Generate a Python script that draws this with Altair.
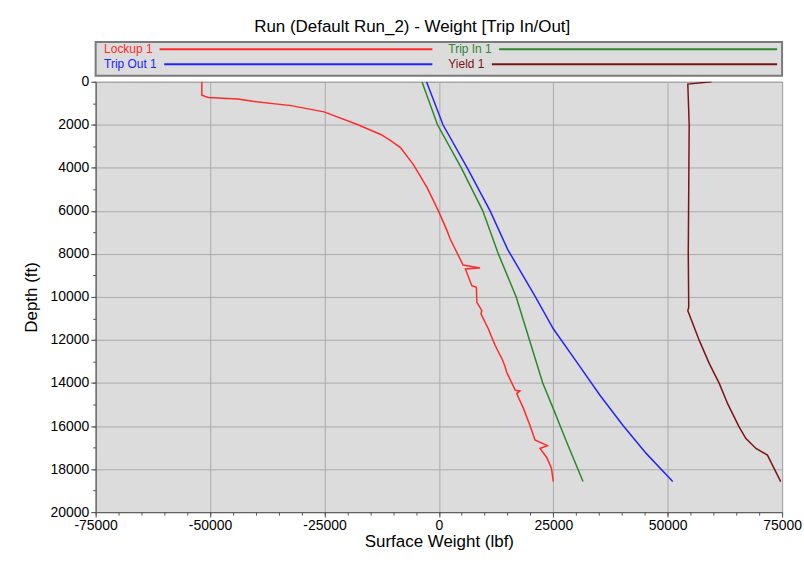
import altair as alt
import pandas as pd

# ---------------- data ----------------
series_names = ["Lockup 1", "Trip In 1", "Trip Out 1", "Yield 1"]
series_colors = ["#ff2b2b", "#2e862e", "#2323ff", "#7a1414"]

lockup_weight = [-51800, -51800, -50400, -43900, -40700, -32300, -25100, -17800, -12700,
                 -10600, -8400, -5600, -2600, -100, 1800, 2500, 5300, 9000, 5800, 7200,
                 8200, 8300, 9400, 9200, 10800, 11400, 12300, 13400, 13800, 14500, 14800,
                 16700, 17700, 17000, 18500, 19900, 21000, 23700, 22100, 23600, 24600, 25000]
lockup_depth = [0, 630, 730, 800, 910, 1110, 1400, 1990, 2450,
                2720, 3060, 3840, 4910, 6000, 6930, 7320, 8520, 8660, 8700, 9480,
                9550, 10250, 10640, 10790, 11480, 11790, 12250, 12720, 12870, 13260, 13490,
                14340, 14370, 14490, 15190, 15960, 16650, 16910, 17040, 17470, 17960, 18580]

tripin_weight = [-3700, -300, 4900, 9600, 13000, 16900, 19800, 22700, 25000, 27900, 31500]
tripin_depth = [0, 2000, 4000, 6000, 8000, 10000, 12000, 14000, 15190, 16730, 18580]

tripout_weight = [-2700, 900, 6200, 11200, 15000, 21100, 25000, 30100, 35200, 40200,
                  45300, 51100]
tripout_depth = [0, 2000, 4000, 6000, 7780, 10000, 11480, 13020, 14570, 15960,
                 17270, 18580]

yield_weight = [59600, 54400, 54700, 54600, 54500, 54600, 54400, 55500, 56900, 59100,
                61300, 63100, 65600, 67100, 69300, 71800, 74700]
yield_depth = [0, 110, 2000, 5000, 8000, 10480, 10640, 11250, 12020, 13100,
               14030, 14960, 16040, 16580, 17040, 17350, 18580]

x_major = [-75000, -50000, -25000, 0, 25000, 50000, 75000]
x_minor = list(range(-75000, 75001, 5000))
y_major = list(range(0, 20001, 2000))
y_minor = list(range(0, 20001, 1000))

title_text = "Run (Default Run_2) - Weight [Trip In/Out]"
x_title = "Surface Weight (lbf)"
y_title = "Depth (ft)"

# ---------------- tables ----------------
rows = []
for name, ws, ds in zip(series_names,
                        [lockup_weight, tripin_weight, tripout_weight, yield_weight],
                        [lockup_depth, tripin_depth, tripout_depth, yield_depth]):
    for i, (w, d) in enumerate(zip(ws, ds)):
        rows.append({"series": name, "weight": w, "depth": d, "idx": i})
df = pd.DataFrame(rows)

PLOT_W, PLOT_H = 689, 432
LEG_H = 34
FONT = "Liberation Sans"
LEG_FS = 12

# approximate Arial advance widths (per 1000 em) to place legend lines after labels
_aw = {"L": 556, "o": 556, "c": 500, "k": 500, "u": 556, "p": 556, " ": 278, "1": 556,
       "T": 611, "r": 333, "i": 222, "n": 556, "O": 778, "t": 278, "Y": 667, "e": 556,
       "l": 222, "d": 556, "I": 278}


def text_w(s):
    return sum(_aw.get(ch, 556) for ch in s) * LEG_FS / 1000.0


col_start = [8.5, 354.0]
col_end = [338.0, 684.0]
row_y = [7.5, 22.5]
leg_rows = []
for i, (name, color) in enumerate(zip(series_names, series_colors)):
    r, c = i // 2, i % 2
    leg_rows.append({"series": name, "tx": col_start[c],
                     "lx": col_start[c] + text_w(name) + 7, "lx2": col_end[c],
                     "ly": row_y[r]})
leg_df = pd.DataFrame(leg_rows)

color_scale = alt.Scale(domain=series_names, range=series_colors)

# ---------------- legend panel ----------------
lx_scale = alt.Scale(domain=[0, PLOT_W], nice=False, zero=False)
ly_scale = alt.Scale(domain=[0, LEG_H], nice=False, zero=False, reverse=True)
leg_base = alt.Chart(leg_df)
leg_text = leg_base.mark_text(align="left", baseline="middle", fontSize=LEG_FS, font=FONT).encode(
    x=alt.X("tx:Q", scale=lx_scale, axis=None),
    y=alt.Y("ly:Q", scale=ly_scale, axis=None),
    text="series:N",
    color=alt.Color("series:N", scale=color_scale, legend=None),
)
leg_line = leg_base.mark_rule(strokeWidth=2).encode(
    x=alt.X("lx:Q", scale=lx_scale, axis=None),
    x2="lx2:Q",
    y=alt.Y("ly:Q", scale=ly_scale, axis=None),
    color=alt.Color("series:N", scale=color_scale, legend=None),
)
legend_panel = alt.layer(leg_line, leg_text).properties(
    width=PLOT_W, height=LEG_H,
    view=alt.ViewBackground(fill="#dcdcdc", stroke="#7a7a7a", strokeWidth=2),
)

# ---------------- main plot ----------------
x_scale = alt.Scale(domain=[-75000, 75000], nice=False, zero=False)
y_scale = alt.Scale(domain=[0, 20000], nice=False, zero=False, reverse=True)

base = alt.Chart(df)
lines = base.mark_line(strokeWidth=1.5, clip=True).encode(
    x=alt.X("weight:Q", scale=x_scale,
            axis=alt.Axis(title=x_title, values=x_major, orient="bottom", grid=True,
                          labelExpr="'' + datum.value", tickSize=5, labelPadding=1,
                          titlePadding=1, labelFontSize=14, titleFontSize=17,
                          titleFontWeight="normal", labelColor="#000000", titleColor="#000000",
                          domainColor="#555555", tickColor="#555555",
                          gridColor="#ababab", gridWidth=1, labelFlush=False)),
    y=alt.Y("depth:Q", scale=y_scale,
            axis=alt.Axis(title=y_title, values=y_major, orient="left", grid=True,
                          labelExpr="'' + datum.value", tickSize=5, labelPadding=2,
                          titlePadding=9, labelFontSize=14, titleFontSize=17,
                          titleFontWeight="normal", labelColor="#000000", titleColor="#000000",
                          domainColor="#555555", tickColor="#555555",
                          gridColor="#ababab", gridWidth=1, labelFlush=False)),
    color=alt.Color("series:N", scale=color_scale, legend=None),
    detail="series:N",
    order=alt.Order("idx:Q"),
)
minor = base.mark_point(opacity=0).encode(
    x=alt.X("weight:Q", scale=x_scale,
            axis=alt.Axis(values=x_minor, orient="bottom", labels=False, title=None,
                          grid=False, domain=False, tickSize=3, tickColor="#555555")),
    y=alt.Y("depth:Q", scale=y_scale,
            axis=alt.Axis(values=y_minor, orient="left", labels=False, title=None,
                          grid=False, domain=False, tickSize=3, tickColor="#555555")),
)
main_panel = alt.layer(lines, minor).resolve_axis(x="independent", y="independent").properties(
    width=PLOT_W, height=PLOT_H,
    view=alt.ViewBackground(fill="#dcdcdc", stroke="#8a8a8a", strokeWidth=1),
)

chart = alt.vconcat(legend_panel, main_panel, spacing=6, bounds="flush").properties(
    title=alt.TitleParams(title_text, fontSize=17, fontWeight="normal", font=FONT,
                          anchor="middle", offset=5, color="#000000"),
    padding={"left": 22, "top": 17, "right": 2, "bottom": 8},
    background="#ffffff",
).configure(font=FONT)

chart.save("out.html", embed_options={"renderer": "svg", "actions": False})
